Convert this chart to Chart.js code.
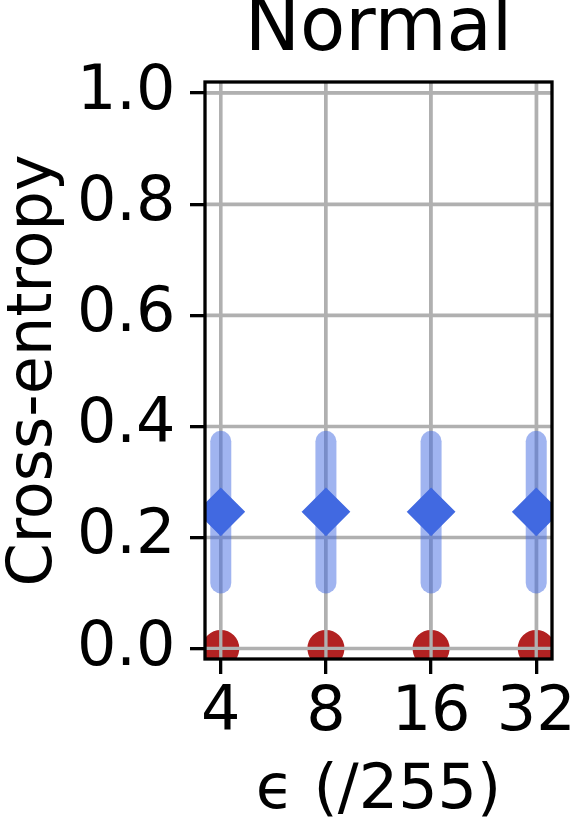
<!DOCTYPE html>
<html lang="en">
<head>
    <meta charset="UTF-8">
    <title>Normal - Cross-entropy</title>
    <script src="https://cdn.jsdelivr.net/npm/chart.js"></script>
    <style>
        html, body { margin: 0; padding: 0; background: #fff; overflow: hidden; }
        #wrap { width: 577px; height: 825px; }
        canvas { display: block; }
    </style>
</head>
<body>
    <div id="wrap"><canvas id="ceChart"></canvas></div>

    <script>
        // values
        const epsilons = ['4', '8', '16', '32'];
        const ceMean = [0.246, 0.246, 0.246, 0.246];
        const ceLow = [0.118, 0.118, 0.118, 0.118];
        const ceHigh = [0.373, 0.373, 0.373, 0.373];
        const ceNormal = [0.0, 0.0, 0.0, 0.0];
        const yTicks = [0.0, 0.2, 0.4, 0.6, 0.8, 1.0];

        const FONT = "'DejaVu Sans', sans-serif";
        const GRID = '#b0b0b0';
        const LW = 3.3;

        // matplotlib draws the grid above the red scatter, below the errorbars
        const layerPlugin = {
            id: 'layers',
            afterDatasetDraw(chart, args) {
                if (args.index !== 1) return;
                const { ctx, chartArea: a, scales: { x, y } } = chart;
                ctx.save();
                ctx.strokeStyle = GRID;
                ctx.lineWidth = LW;
                epsilons.forEach((e, i) => {
                    const px = x.getPixelForValue(i);
                    ctx.beginPath(); ctx.moveTo(px, a.top); ctx.lineTo(px, a.bottom); ctx.stroke();
                });
                yTicks.forEach(v => {
                    const py = y.getPixelForValue(v);
                    ctx.beginPath(); ctx.moveTo(a.left, py); ctx.lineTo(a.right, py); ctx.stroke();
                });
                // error bars
                ctx.beginPath();
                ctx.rect(a.left, a.top, a.right - a.left, a.bottom - a.top);
                ctx.clip();
                ctx.strokeStyle = 'rgba(65,105,225,0.5)';
                ctx.lineWidth = 21;
                ctx.lineCap = 'round';
                epsilons.forEach((e, i) => {
                    const px = x.getPixelForValue(i);
                    ctx.beginPath();
                    ctx.moveTo(px, y.getPixelForValue(ceLow[i]));
                    ctx.lineTo(px, y.getPixelForValue(ceHigh[i]));
                    ctx.stroke();
                });
                ctx.restore();
            },
            afterDraw(chart) {
                const { ctx, chartArea: a } = chart;
                ctx.save();
                ctx.strokeStyle = '#000';
                ctx.lineWidth = LW;
                ctx.lineJoin = 'miter';
                ctx.strokeRect(a.left, a.top, a.right - a.left, a.bottom - a.top);
                ctx.restore();
            }
        };

        new Chart(document.getElementById('ceChart'), {
            type: 'scatter',
            data: {
                datasets: [
                    {
                        label: 'mean',
                        data: ceMean.map((v, i) => ({ x: i, y: v })),
                        xAxisID: 'x',
                        yAxisID: 'y',
                        pointStyle: 'rectRot',
                        pointRadius: 23,
                        pointBorderWidth: 2,
                        backgroundColor: '#4169e1',
                        borderColor: '#4169e1',
                        clip: 0
                    },
                    {
                        label: 'normal',
                        data: ceNormal.map((v, i) => ({ x: i, y: v })),
                        xAxisID: 'x',
                        yAxisID: 'y',
                        pointStyle: 'circle',
                        pointRadius: 17.5,
                        pointBorderWidth: 2,
                        backgroundColor: '#b22222',
                        borderColor: '#b22222',
                        clip: 0
                    }
                ]
            },
            options: {
                responsive: true,
                maintainAspectRatio: false,
                animation: false,
                layout: { padding: { left: 0, right: 22, top: 0, bottom: 0 } },
                plugins: {
                    legend: { display: false },
                    tooltip: { enabled: false }
                },
                scales: {
                    // top axis only carries the panel title, centred over the plot
                    top: {
                        type: 'linear',
                        position: 'top',
                        min: 0,
                        max: 1,
                        afterFit(scale) { scale.height = 82; scale.paddingLeft = 0; scale.paddingRight = 0; },
                        ticks: { display: false },
                        grid: { display: false },
                        border: { display: false },
                        title: {
                            display: true,
                            text: 'Normal',
                            color: '#000',
                            font: { family: FONT, size: 74, lineHeight: 0.84 },
                            padding: { top: 0, bottom: 0 }
                        }
                    },
                    x: {
                        type: 'linear',
                        min: -0.15,
                        max: 3.15,
                        afterBuildTicks(scale) { scale.ticks = epsilons.map((e, i) => ({ value: i })); },
                        afterFit(scale) { scale.height = 166; scale.paddingLeft = 0; scale.paddingRight = 0; },
                        ticks: {
                            color: '#000',
                            font: { family: FONT, size: 62, lineHeight: 1 },
                            padding: 8.5,
                            maxRotation: 0,
                            autoSkip: false,
                            callback: v => epsilons[v]
                        },
                        grid: { color: GRID, lineWidth: LW, tickLength: 15, tickColor: '#000', tickWidth: LW },
                        border: { display: false },
                        title: {
                            display: true,
                            text: 'ϵ (/255)',
                            color: '#000',
                            font: { family: FONT, size: 62, lineHeight: 1 },
                            padding: { top: 0, bottom: 2 }
                        }
                    },
                    y: {
                        min: -0.019,
                        max: 1.02,
                        afterBuildTicks(scale) { scale.ticks = yTicks.map(v => ({ value: v })); },
                        afterFit(scale) { scale.width = 205; },
                        ticks: {
                            color: '#000',
                            font: { family: FONT, size: 62, lineHeight: 1 },
                            padding: 14.5,
                            callback: v => v.toFixed(1)
                        },
                        grid: { color: GRID, lineWidth: LW, tickLength: 15, tickColor: '#000', tickWidth: LW },
                        border: { display: false },
                        title: {
                            display: true,
                            text: 'Cross-entropy',
                            color: '#000',
                            font: { family: FONT, size: 62, lineHeight: 1 },
                            padding: { top: 3.5, bottom: 0 }
                        }
                    }
                }
            },
            plugins: [layerPlugin]
        });
    </script>
</body>
</html>
